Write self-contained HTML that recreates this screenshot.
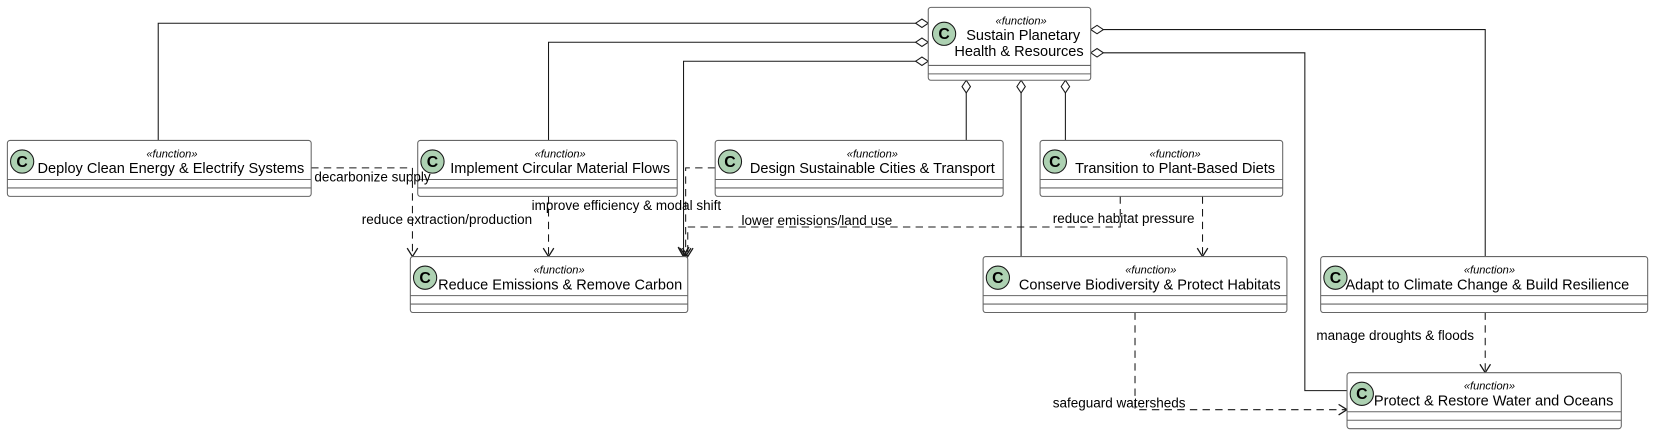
<!DOCTYPE html>
<html><head><meta charset="utf-8"><style>body{margin:0;background:#fff}svg{display:block;font-family:"Liberation Sans",sans-serif}</style></head><body>
<svg width="1654" height="435" viewBox="0 0 1568 412" preserveAspectRatio="none" xmlns="http://www.w3.org/2000/svg">
<defs>
<marker id="a" markerWidth="12" markerHeight="12" refX="10" refY="6" orient="auto" markerUnits="userSpaceOnUse" viewBox="0 0 12 12"><path d="M2,1 L10,6 L2,11" fill="none" stroke="#181818" stroke-width="1.2"/></marker>
<g id="c"><circle cx="0" cy="0" r="11" fill="#ADD1B2" stroke="#181818" stroke-width="1"/><text x="0" y="5" font-size="15" font-weight="bold" text-anchor="middle" fill="#000">C</text></g>
</defs>
<g fill="none" stroke="#181818" stroke-width="1">
<polyline points="868,22 150,22 150,133"/>
<polyline points="868,40 520,40 520,133"/>
<polyline points="868,58 648,58 648,241"/>
<polyline points="916,88 916,133"/>
<polyline points="968,88 968,243"/>
<polyline points="1010,88 1010,133"/>
<polyline points="1046,28 1408,28 1408,243"/>
<polyline points="1046,50 1237,50 1237,370 1277,370"/>
</g>
<g fill="#fff" stroke="#181818" stroke-width="1">
<path d="M880,22 l-6,-4 l-6,4 l6,4z"/><path d="M880,40 l-6,-4 l-6,4 l6,4z"/><path d="M880,58 l-6,-4 l-6,4 l6,4z"/>
<path d="M1034,28 l6,-4 l6,4 l-6,4z"/><path d="M1034,50 l6,-4 l6,4 l-6,4z"/>
<path d="M916,76 l-4,6 l4,6 l4,-6z"/><path d="M968,76 l-4,6 l4,6 l4,-6z"/><path d="M1010,76 l-4,6 l4,6 l4,-6z"/>
</g>
<path d="M648,243 l-5,-9 M648,243 l5,-9" stroke="#181818" stroke-width="1.5"/>
<g fill="none" stroke="#181818" stroke-width="1" stroke-dasharray="7,5">
<polyline points="295,159 391,159 391,243" marker-end="url(#a)"/>
<polyline points="520,186 520,243" marker-end="url(#a)"/>
<polyline points="678,159 650,159 650,243" marker-end="url(#a)"/>
<polyline points="1062,186 1062,215 652,215 652,243" marker-end="url(#a)"/>
<polyline points="1140,186 1140,243" marker-end="url(#a)"/>
<polyline points="1076,296 1076,388 1277,388" marker-end="url(#a)"/>
<polyline points="1408,296 1408,353" marker-end="url(#a)"/>
</g>
<g fill="#fff" stroke="#666" stroke-width="1">
<rect x="880" y="7" width="154" height="69" rx="2.5"/>
<rect x="7" y="133" width="288" height="53" rx="2.5"/>
<rect x="396" y="133" width="246" height="53" rx="2.5"/>
<rect x="678" y="133" width="273" height="53" rx="2.5"/>
<rect x="986" y="133" width="230" height="53" rx="2.5"/>
<rect x="389" y="243" width="263" height="53" rx="2.5"/>
<rect x="932" y="243" width="288" height="53" rx="2.5"/>
<rect x="1252" y="243" width="310" height="53" rx="2.5"/>
<rect x="1277" y="353" width="260" height="53" rx="2.5"/>
</g>
<g stroke="#666" stroke-width="1">
<path d="M880,62H1034M880,70H1034"/>
<path d="M7,170H295M7,178H295"/>
<path d="M396,170H642M396,178H642"/>
<path d="M678,170H951M678,178H951"/>
<path d="M986,170H1216M986,178H1216"/>
<path d="M389,280H652M389,288H652"/>
<path d="M932,280H1220M932,288H1220"/>
<path d="M1252,280H1562M1252,288H1562"/>
<path d="M1277,390H1537M1277,398H1537"/>
</g>
<use href="#c" x="895" y="32"/>
<use href="#c" x="21" y="153"/>
<use href="#c" x="410" y="153"/>
<use href="#c" x="692" y="153"/>
<use href="#c" x="1000" y="153"/>
<use href="#c" x="403" y="263"/>
<use href="#c" x="946" y="263"/>
<use href="#c" x="1266" y="263"/>
<use href="#c" x="1291" y="373"/>
<g font-size="10.5" font-style="italic" text-anchor="middle" fill="#000">
<text x="968" y="23">«function»</text>
<text x="163" y="149">«function»</text>
<text x="531" y="149">«function»</text>
<text x="827" y="149">«function»</text>
<text x="1114" y="149">«function»</text>
<text x="530" y="259">«function»</text>
<text x="1091" y="259">«function»</text>
<text x="1412" y="259">«function»</text>
<text x="1412" y="369">«function»</text>
</g>
<g font-size="13.8" text-anchor="middle" fill="#000">
<text x="970" y="38">Sustain Planetary</text>
<text x="966" y="53">Health &amp; Resources</text>
<text x="162" y="164">Deploy Clean Energy &amp; Electrify Systems</text>
<text x="531" y="164">Implement Circular Material Flows</text>
<text x="827" y="164">Design Sustainable Cities &amp; Transport</text>
<text x="1114" y="164">Transition to Plant-Based Diets</text>
<text x="531" y="274">Reduce Emissions &amp; Remove Carbon</text>
<text x="1090" y="274">Conserve Biodiversity &amp; Protect Habitats</text>
<text x="1410" y="274">Adapt to Climate Change &amp; Build Resilience</text>
<text x="1416" y="384">Protect &amp; Restore Water and Oceans</text>
</g>
<g font-size="12.8" fill="#000">
<text x="298" y="172">decarbonize supply</text>
<text x="343" y="212">reduce extraction/production</text>
<text x="504" y="199">improve efficiency &amp; modal shift</text>
<text x="703" y="213">lower emissions/land use</text>
<text x="998" y="211">reduce habitat pressure</text>
<text x="998" y="386">safeguard watersheds</text>
<text x="1248" y="322">manage droughts &amp; floods</text>
</g>
</svg>
</body></html>
